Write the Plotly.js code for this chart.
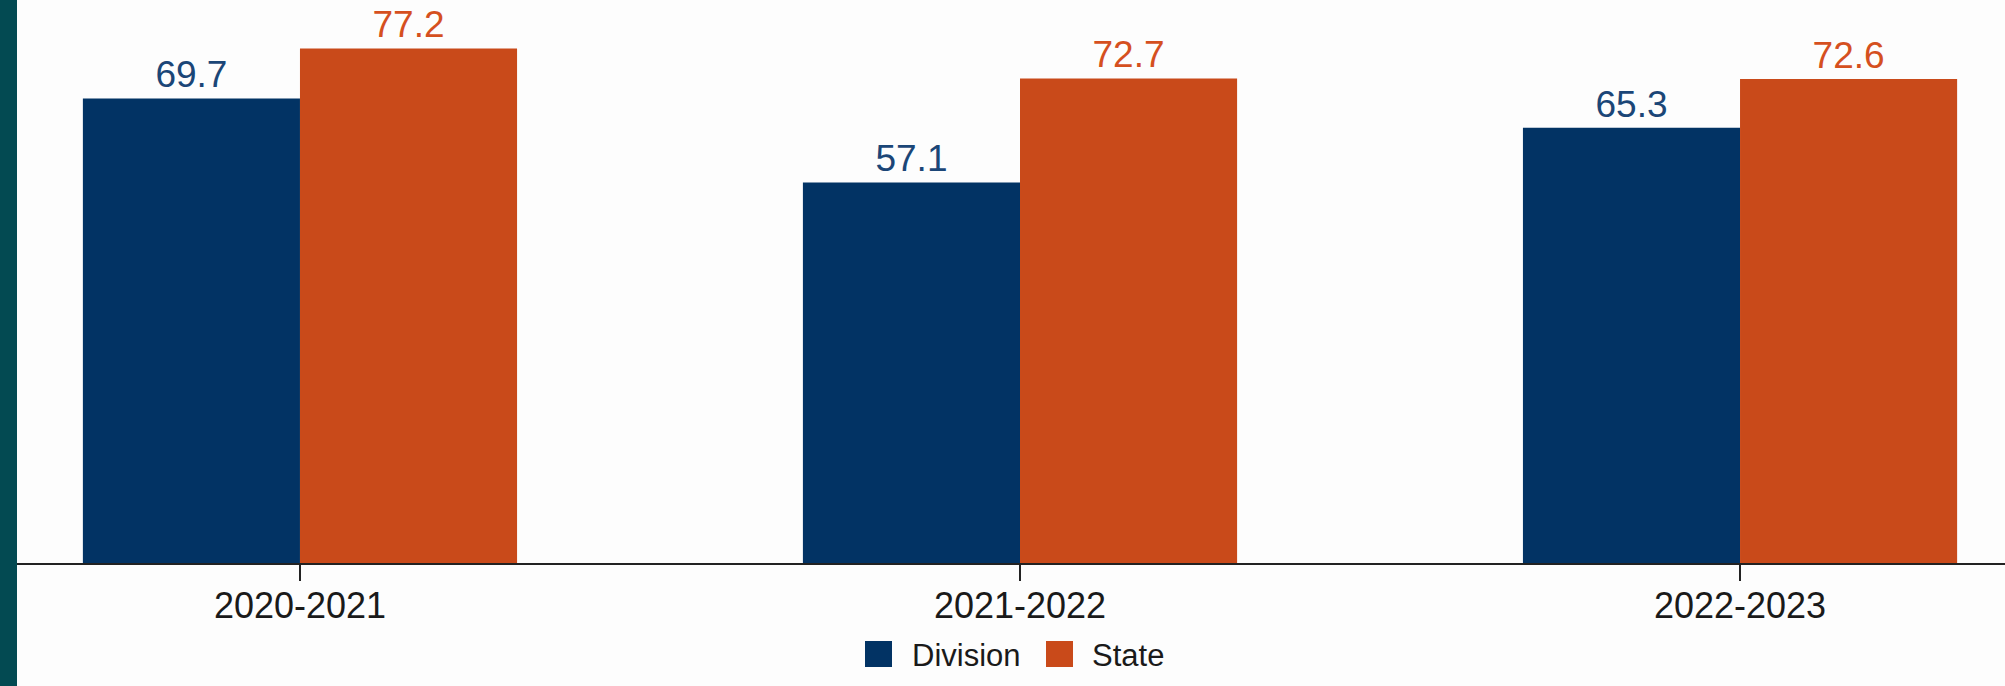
<!DOCTYPE html>
<html>
<head>
<meta charset="utf-8">
<script src="https://cdn.plot.ly/plotly-3.0.1.min.js"></script>
<style>
  html, body { margin: 0; padding: 0; background: #fdfdfd; }
  #chart { width: 2005px; height: 686px; }
</style>
</head>
<body>
<div id="chart"></div>
<script>
// ---- data ----
const categories = ["2020-2021", "2021-2022", "2022-2023"];
const seriesNames = ["Division", "State"];
const divisionValues = [69.7, 57.1, 65.3];
const stateValues = [77.2, 72.7, 72.6];

// ---- styles ----
const barColors = ["#023364", "#c94a1a"];
const labelColors = ["#1b4677", "#d5501f"];
const FONT = "Liberation Sans, Arial, Helvetica, sans-serif";

const W = 2005, H = 686;
const M = { l: 17, r: 0, t: 0, b: 123 };
const plotW = W - M.l - M.r, plotH = H - M.t - M.b;
const px2x = p => (p - M.l) / plotW;
const px2y = p => (H - M.b - p) / plotH;

const seriesValues = [divisionValues, stateValues];
const traces = seriesNames.map((name, i) => ({
  type: "bar",
  name: name,
  x: categories,
  y: seriesValues[i],
  marker: { color: barColors[i], line: { width: 0 } },
  texttemplate: "%{y:.1f}",
  textposition: "outside",
  textfont: { family: FONT, size: 37, color: labelColors[i] },
  cliponaxis: false,
  hoverinfo: "skip",
  showlegend: false
}));

// custom legend (large square swatches)
const legendSwatchX = [865, 1046];
const legendTextX = [910, 1090];
const shapes = [
  { type: "rect", xref: "paper", yref: "paper", layer: "below",
    x0: px2x(0), x1: px2x(17), y0: px2y(H), y1: px2y(0),
    fillcolor: "#034a52", line: { width: 0 } }
];
const annotations = [];
seriesNames.forEach((name, i) => {
  shapes.push({ type: "rect", xref: "paper", yref: "paper",
    x0: px2x(legendSwatchX[i]), x1: px2x(legendSwatchX[i] + 27),
    y0: px2y(667), y1: px2y(641),
    fillcolor: barColors[i], line: { width: 0 } });
  annotations.push({ xref: "paper", yref: "paper", showarrow: false,
    x: px2x(legendTextX[i]), xanchor: "left",
    y: px2y(655), yanchor: "middle",
    text: name, font: { family: FONT, size: 31, color: "#1a1a1a" } });
});

const layout = {
  width: W, height: H,
  margin: M,
  paper_bgcolor: "#fdfdfd",
  plot_bgcolor: "#fdfdfd",
  barmode: "group",
  bargap: 0.397,
  bargroupgap: 0,
  showlegend: false,
  font: { family: FONT },
  xaxis: {
    type: "category",
    range: [-0.393, 2.368],
    showline: true, linecolor: "#222222", linewidth: 2,
    ticks: "outside", ticklen: 16, tickwidth: 2, tickcolor: "#222222",
    ticklabelstandoff: -6,
    tickfont: { family: FONT, size: 36, color: "#1a1a1a" },
    showgrid: false, zeroline: false, fixedrange: true
  },
  yaxis: {
    range: [0, 84.47],
    visible: false, showgrid: false, zeroline: false, fixedrange: true
  },
  shapes: shapes,
  annotations: annotations
};

Plotly.newPlot("chart", traces, layout, { staticPlot: true, displayModeBar: false });
</script>
</body>
</html>
